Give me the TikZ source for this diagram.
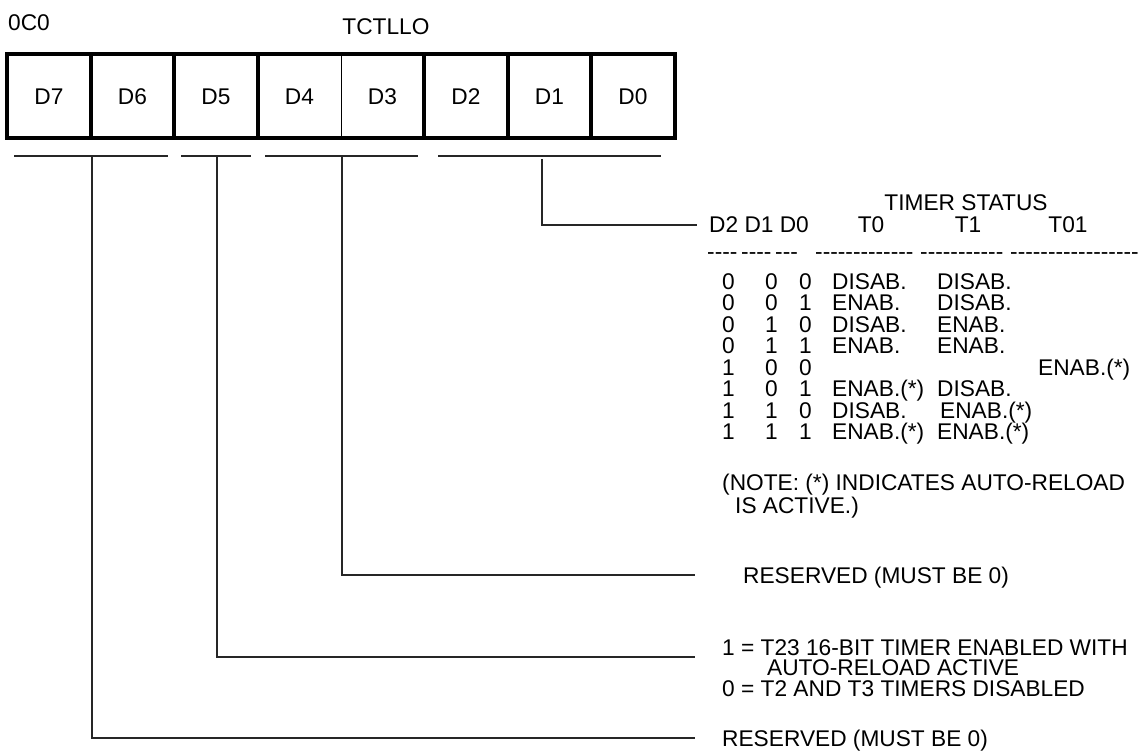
\documentclass[tikz,border=0pt]{standalone}
\usepackage{fontspec}
\setmainfont{Liberation Sans}
\newcommand{\hy}{\mbox{-}}
\begin{document}
\begin{tikzpicture}[x=1pt,y=-1pt,
  txt/.style={inner sep=0pt, anchor=base west, font=\fontsize{22.7}{21}\selectfont},
  ctxt/.style={inner sep=0pt, anchor=base, font=\fontsize{22.7}{21}\selectfont},
  boxline/.style={line width=3.3pt, line cap=rect},
  thinline/.style={line width=1pt},
  conn/.style={line width=1.2pt, draw=black!85}]
\useasboundingbox (0,0) rectangle (1140,754);
% titles
\node[txt] (addr) at (8,30.6) {0C0};
\node[ctxt] (regname) at (386,35) {TCTLLO};
% register box
\draw[boxline] (7,54) rectangle (675,138);
\foreach \x in {91,174,258,424,508,591} \draw[boxline] (\x,54) -- (\x,138);
\draw[thinline] (341,54) -- (341,138);
\node[ctxt] (d7) at (49,105) {D7};
\node[ctxt] (d6) at (132.5,105) {D6};
\node[ctxt] (d5) at (216,105) {D5};
\node[ctxt] (d4) at (299.5,105) {D4};
\node[ctxt] (d3) at (382.5,105) {D3};
\node[ctxt] (d2) at (466,105) {D2};
\node[ctxt] (d1) at (549.5,105) {D1};
\node[ctxt] (d0) at (633,105) {D0};
% group bars
\coordinate (g7l) at (14,156);  \coordinate (g7r) at (168,156);
\coordinate (g5l) at (181,156); \coordinate (g5r) at (251,156);
\coordinate (g3l) at (265,156); \coordinate (g3r) at (418,156);
\coordinate (g0l) at (438,156); \coordinate (g0r) at (661,156);
\draw[conn] (g7l) -- (g7r);
\draw[conn] (g5l) -- (g5r);
\draw[conn] (g3l) -- (g3r);
\draw[conn] (g0l) -- (g0r);
\coordinate (v7) at (92,156);
\coordinate (v5) at (217,156);
\coordinate (v3) at (342,156);
\coordinate (v0) at (542,159);
\coordinate (e0) at (697,225);
\coordinate (e3) at (695,575);
\coordinate (e5) at (695,657);
\coordinate (e7) at (695,738);
\draw[conn] (v0) |- (e0);
\draw[conn] (v3) |- (e3);
\draw[conn] (v5) |- (e5);
\draw[conn] (v7) |- (e7);
% timer status table
\node[ctxt] (ts) at (966,211) {TIMER STATUS};
\node[txt] (hd) at (709,233) {D2 D1 D0};
\node[ctxt] (ht0) at (871,233) {T0};
\node[ctxt] (ht1) at (968,233) {T1};
\node[ctxt] (ht01) at (1068,233) {T01};
\node[txt] (da1) at (707,259) {\hy\hy\hy\hy};
\node[txt] (da2) at (741,259) {\hy\hy\hy\hy};
\node[txt] (da3) at (775,259) {\hy\hy\hy};
\node[txt] (da4) at (815,259) {\hy\hy\hy\hy\hy\hy\hy\hy\hy\hy\hy\hy\hy};
\node[txt] (da5) at (920,259) {\hy\hy\hy\hy\hy\hy\hy\hy\hy\hy\hy};
\node[txt] (da6) at (1010,259) {\hy\hy\hy\hy\hy\hy\hy\hy\hy\hy\hy\hy\hy\hy\hy\hy\hy};
% rows
\node[txt] (r1a) at (722,289) {0};   \node[txt] (r1b) at (765,289) {0};   \node[txt] (r1c) at (799,289) {0};
\node[txt] (r1d) at (832,289) {DISAB.}; \node[txt] (r1e) at (937,289) {DISAB.};
\node[txt] (r2a) at (722,310.5) {0}; \node[txt] (r2b) at (765,310.5) {0}; \node[txt] (r2c) at (799,310.5) {1};
\node[txt] (r2d) at (832,310.5) {ENAB.}; \node[txt] (r2e) at (937,310.5) {DISAB.};
\node[txt] (r3a) at (722,332) {0};   \node[txt] (r3b) at (765,332) {1};   \node[txt] (r3c) at (799,332) {0};
\node[txt] (r3d) at (832,332) {DISAB.}; \node[txt] (r3e) at (937,332) {ENAB.};
\node[txt] (r4a) at (722,353.5) {0}; \node[txt] (r4b) at (765,353.5) {1}; \node[txt] (r4c) at (799,353.5) {1};
\node[txt] (r4d) at (832,353.5) {ENAB.}; \node[txt] (r4e) at (937,353.5) {ENAB.};
\node[txt] (r5a) at (722,375) {1};   \node[txt] (r5b) at (765,375) {0};   \node[txt] (r5c) at (799,375) {0};
\node[txt] (r5f) at (1038,375) {ENAB.(*)};
\node[txt] (r6a) at (722,396.5) {1}; \node[txt] (r6b) at (765,396.5) {0}; \node[txt] (r6c) at (799,396.5) {1};
\node[txt] (r6d) at (832,396.5) {ENAB.(*)}; \node[txt] (r6e) at (937,396.5) {DISAB.};
\node[txt] (r7a) at (722,418) {1};   \node[txt] (r7b) at (765,418) {1};   \node[txt] (r7c) at (799,418) {0};
\node[txt] (r7d) at (832,418) {DISAB.}; \node[txt] (r7e) at (940,418) {ENAB.(*)};
\node[txt] (r8a) at (722,439.5) {1}; \node[txt] (r8b) at (765,439.5) {1}; \node[txt] (r8c) at (799,439.5) {1};
\node[txt] (r8d) at (832,439.5) {ENAB.(*)}; \node[txt] (r8e) at (937,439.5) {ENAB.(*)};
% note
\node[txt] (n1) at (722,490) {(NOTE: (*) INDICATES AUTO-RELOAD};
\node[txt] (n2) at (735,513) {IS ACTIVE.)};
% other descriptions
\node[txt] (res3) at (743,583) {RESERVED (MUST BE 0)};
\node[txt] (t23a) at (722,655) {1 = T23 16-BIT TIMER ENABLED WITH};
\node[txt] (t23b) at (767,675.5) {AUTO-RELOAD ACTIVE};
\node[txt] (t23c) at (722,696) {0 = T2 AND T3 TIMERS DISABLED};
\node[txt] (res7) at (722,746) {RESERVED (MUST BE 0)};
\end{tikzpicture}
\end{document}
